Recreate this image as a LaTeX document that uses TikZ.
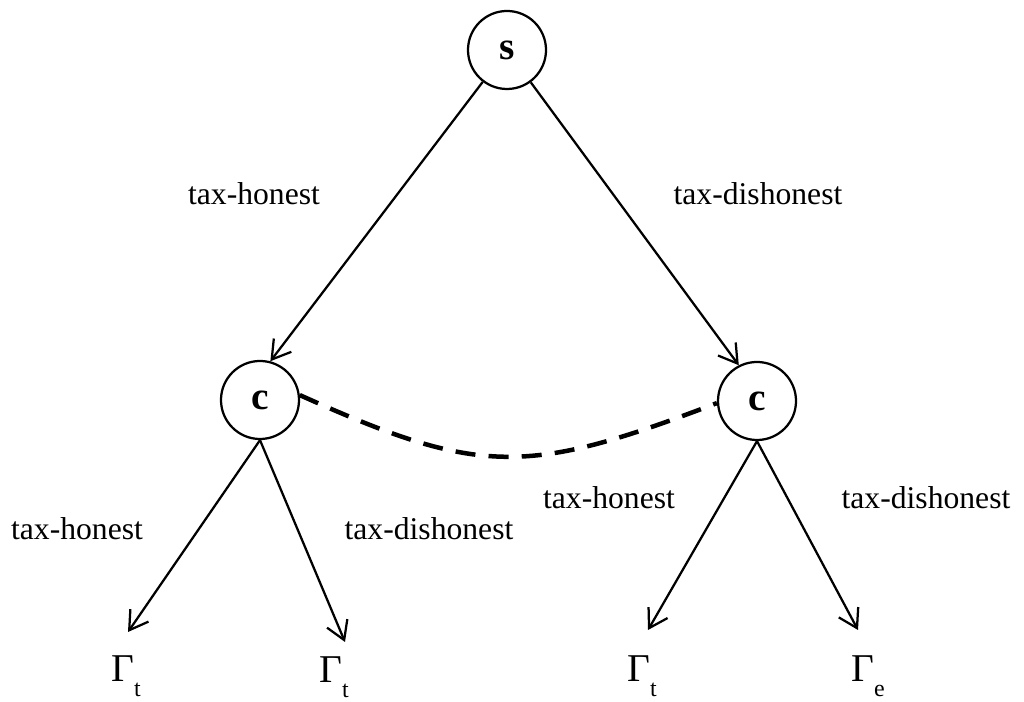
\documentclass[tikz,border=0pt]{standalone}
\usepackage{fontspec}
\setmainfont{Liberation Serif}
\usetikzlibrary{arrows.meta}

\begin{document}
\begin{tikzpicture}[x=0.025cm,y=0.025cm,>={Straight Barb[length=4.5mm,width=5.5mm]},
    player/.style={circle,draw,line width=1.6pt,minimum size=1.95cm,inner sep=0pt,font=\fontsize{28}{28}\selectfont\bfseries},
    move/.style={->,line width=1.6pt},
    act/.style={anchor=base,inner sep=0pt,font=\fontsize{22.5}{24}\selectfont},
    pay/.style={anchor=base west,inner sep=0pt,font=\fontsize{28}{28}\selectfont}]
        \useasboundingbox (0,0) rectangle (1024,702);
        \node[player] (s) at (507,652) {s}; % Root
        \node[player] (cl) at (260,302) {c};
        \node[player] (cr) at (757,301) {c};
        \draw[move] (s) -- (cl.75);
        \draw[move] (s) -- (cr.117);
        \node[act] (a1) at (254,497) {tax-honest};
        \node[act] (a2) at (758,497) {tax-dishonest};
        \draw[line width=3.2pt,dash pattern=on 0.5cm off 0.33cm] (cl.7) .. controls (480,226) and (526,226) .. (cr.183); % Info set
        \coordinate (e1) at (128,70);
        \coordinate (e2) at (345,60);
        \coordinate (e3) at (648,72);
        \coordinate (e4) at (858,72);
        \draw[move] (cl.south) -- (e1);
        \draw[move] (cl.south) -- (e2);
        \draw[move] (cr.south) -- (e3);
        \draw[move] (cr.south) -- (e4);
        \node[act] (a3) at (77,162) {tax-honest};
        \node[act] (a4) at (429,162) {tax-dishonest};
        \node[act] (a5) at (609,193) {tax-honest};
        \node[act] (a6) at (926,193) {tax-dishonest};
        \node[pay] (g1) at (111,20) {Γ\raisebox{-10pt}{\fontsize{17}{17}\selectfont t}}; % Payoffs
        \node[pay] (g2) at (319,19) {Γ\raisebox{-10pt}{\fontsize{17}{17}\selectfont t}};
        \node[pay] (g3) at (627,20) {Γ\raisebox{-10pt}{\fontsize{17}{17}\selectfont t}};
        \node[pay] (g4) at (851,20) {Γ\raisebox{-10pt}{\fontsize{17}{17}\selectfont e}};
      \end{tikzpicture}
\end{document}
